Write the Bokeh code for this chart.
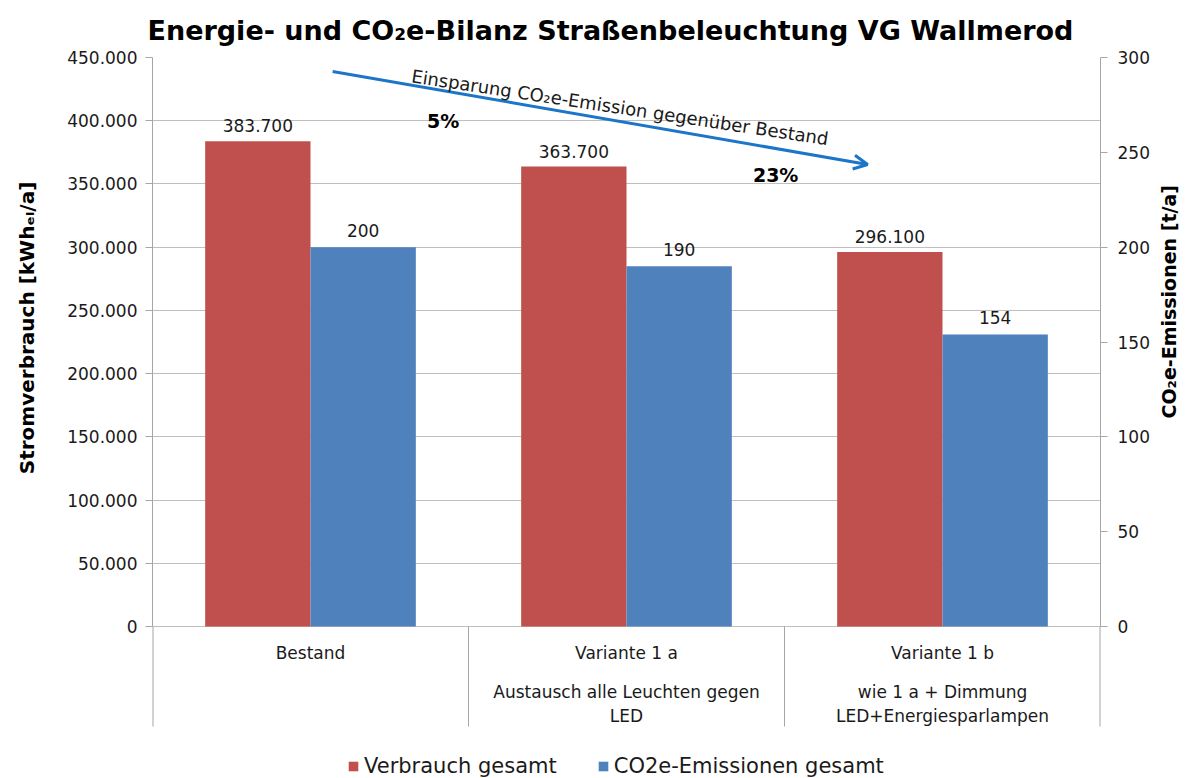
import math
from bokeh.plotting import figure
from bokeh.models import (Range1d, LinearAxis, FixedTicker, ColumnDataSource, Legend, LegendItem,
                          Arrow, OpenHead, Label, Title)
from bokeh.core.properties import value
from bokeh.transform import dodge
from bokeh.embed import file_html
from bokeh.resources import INLINE

# ---- data ----
categories = ["Bestand", "Variante 1 a", "Variante 1 b"]
subtitles = ["", "Austausch alle Leuchten gegen\nLED", "wie 1 a + Dimmung\nLED+Energiesparlampen"]
verbrauch = [383700, 363700, 296100]          # kWh_el/a
co2 = [200, 190, 154]                         # t/a
savings = ["5%", "23%"]
left_ticks = [0, 50000, 100000, 150000, 200000, 250000, 300000, 350000, 400000, 450000]
right_ticks = [0, 50, 100, 150, 200, 250, 300]

RED = "#C0504D"
BLUE = "#4F81BD"
GRID = "#BFBFBF"
AXIS = "#A6A6A6"
ARROW = "#1C75C8"
TXT = "#1a1a1a"
FONT = "DejaVu Sans"

def de(v):
    return f"{v:,}".replace(",", ".")

n = len(categories)
xs = [i + 0.5 for i in range(n)]
PLOT_H, BELOW_H, SEP_H = 569, 153, 100        # px: value area, area below zero, separator length
ymax_l, ymax_r = left_ticks[-1], right_ticks[-1]
ymin_l, ymin_r = -ymax_l * BELOW_H / PLOT_H, -ymax_r * BELOW_H / PLOT_H

src = ColumnDataSource(dict(x=xs, v=verbrauch, c=co2,
                            vl=[de(v) for v in verbrauch], cl=[str(c) for c in co2]))
cat_src = ColumnDataSource(dict(x=xs, c=categories, s=subtitles))
sep_x = list(range(n + 1))
sep_src = ColumnDataSource(dict(x=sep_x, y0=[0] * len(sep_x),
                                y1=[-ymax_l * SEP_H / PLOT_H] * len(sep_x),
                                w=[2 if x in (0, n) else 1 for x in sep_x]))

p = figure(frame_width=948, frame_height=PLOT_H + BELOW_H, x_range=Range1d(0, n),
           y_range=Range1d(ymin_l, ymax_l), output_backend="svg", toolbar_location=None,
           min_border_left=152, min_border_right=84, min_border_top=56, min_border_bottom=0)
p.extra_y_ranges = {"co2": Range1d(ymin_r, ymax_r)}
p.outline_line_color = None
p.xaxis.visible = False
p.xgrid.visible = False

# title
p.title = Title(text="Energie- und CO\u2082e-Bilanz Straßenbeleuchtung VG Wallmerod",
                align="left", text_font=FONT, text_font_size="27px", text_font_style="bold",
                text_color="black", offset=-5, standoff=24)

# left axis
yl = p.yaxis[0]
yl.ticker = FixedTicker(ticks=left_ticks)
yl.bounds = (0, ymax_l)
yl.major_label_overrides = {t: de(t) for t in left_ticks}
yl.axis_label = "\u00a0" * 26 + "Stromverbrauch [kWh\u2091\u2097/a]"
yl.axis_label_text_font = FONT
yl.axis_label_text_font_size = "20px"
yl.axis_label_text_font_style = "bold"
yl.axis_label_text_color = "black"
yl.axis_label_standoff = 25
yl.major_label_text_font = FONT
yl.major_label_text_font_size = "17px"
yl.major_label_text_color = TXT
yl.major_label_standoff = 8
yl.axis_line_color = AXIS
yl.major_tick_line_color = AXIS
yl.major_tick_out = 7
yl.major_tick_in = 0
yl.minor_tick_line_color = None
p.ygrid.ticker = FixedTicker(ticks=left_ticks)
p.ygrid.grid_line_color = GRID

# right axis
yr = LinearAxis(y_range_name="co2", ticker=FixedTicker(ticks=right_ticks), bounds=(0, ymax_r))
yr.axis_label = "CO\u2082e-Emissionen [t/a]"
yr.axis_label_orientation = math.pi / 2
yr.axis_label_text_align = "center"
yr.axis_label_text_font = FONT
yr.axis_label_text_font_size = "19px"
yr.axis_label_text_font_style = "bold"
yr.axis_label_text_color = "black"
yr.axis_label_standoff = 16
yr.major_label_text_font = FONT
yr.major_label_text_font_size = "17px"
yr.major_label_text_color = TXT
yr.major_label_standoff = 10
yr.axis_line_color = AXIS
yr.major_tick_line_color = AXIS
yr.major_tick_out = 7
yr.major_tick_in = 0
yr.minor_tick_line_color = None
p.add_layout(yr, "right")

# category separators and labels (area below zero)
p.segment(x0="x", y0="y0", x1="x", y1="y1", source=sep_src, line_color=AXIS, line_width="w")
p.text(x="x", y=0, text="c", source=cat_src, text_align="center", text_baseline="top",
       y_offset=16, text_font=value(FONT), text_font_size="17px", text_color=TXT)
p.text(x="x", y=0, text="s", source=cat_src, text_align="center", text_baseline="top",
       y_offset=55, text_font=value(FONT), text_font_size="17px", text_color=TXT,
       text_line_height=1.2)

# bars
r1 = p.vbar(x=dodge("x", -1 / 6, range=p.x_range), top="v", width=1 / 3, source=src,
            fill_color=RED, line_color=None)
r2 = p.vbar(x=dodge("x", 1 / 6, range=p.x_range), top="c", width=1 / 3, source=src,
            fill_color=BLUE, line_color=None, y_range_name="co2")

# value labels
p.text(x=dodge("x", -1 / 6, range=p.x_range), y="v", text="vl", source=src, text_align="center",
       text_baseline="bottom", y_offset=-9, text_font=value(FONT),
       text_font_size="17px", text_color=TXT)
p.text(x=dodge("x", 1 / 6, range=p.x_range), y="c", text="cl", source=src, text_align="center",
       text_baseline="bottom", y_offset=-10, y_range_name="co2", text_font=value(FONT),
       text_font_size="17px", text_color=TXT)

# arrow annotation
p.add_layout(Arrow(end=OpenHead(size=14, line_color=ARROW, line_width=3),
                   x_start=0.570, y_start=438900, x_end=2.263, y_end=365400,
                   line_color=ARROW, line_width=3))
p.add_layout(Label(x=0.82, y=435500, text="Einsparung CO\u2082e-Emission gegenüber Bestand",
                   angle=-8.6, angle_units="deg", text_font=FONT, text_font_size="18px",
                   text_color=TXT, text_baseline="alphabetic"))
p.add_layout(Label(x=0.92, y=399400, text=savings[0], text_align="center", text_baseline="middle",
                   text_font=FONT, text_font_size="19px", text_font_style="bold", text_color="black"))
p.add_layout(Label(x=1.972, y=356700, text=savings[1], text_align="center", text_baseline="middle",
                   text_font=FONT, text_font_size="19px", text_font_style="bold", text_color="black"))

# legend (inside the frame, at the very bottom)
legend = Legend(items=[LegendItem(label="Verbrauch gesamt", renderers=[r1]),
                       LegendItem(label="CO2e-Emissionen gesamt", renderers=[r2])],
                orientation="horizontal", location=(195, 1), label_text_font=FONT,
                label_text_font_size="21px", label_text_color=TXT,
                glyph_width=12, glyph_height=12, label_standoff=5, spacing=40,
                border_line_alpha=0, background_fill_alpha=0, padding=0, margin=0)
p.add_layout(legend, "center")

open("out.html", "w").write(file_html(p, INLINE))
